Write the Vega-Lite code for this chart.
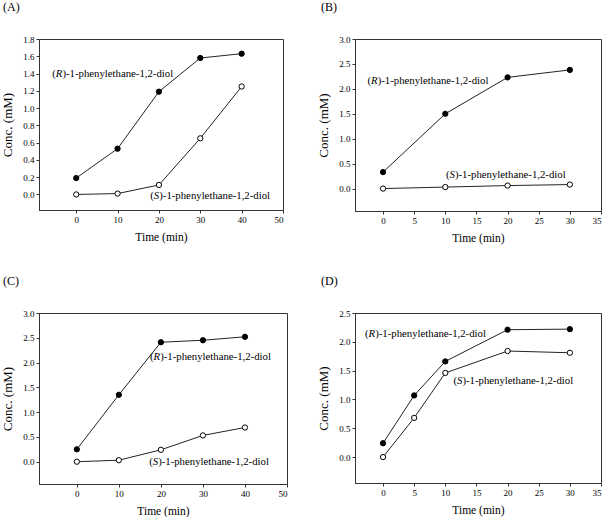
{
  "$schema": "https://vega.github.io/schema/vega-lite/v6.json",
  "background": "white",
  "padding": {"left": 1, "top": 0, "right": 0, "bottom": 0},
  "columns": 2,
  "spacing": {"column": 29, "row": 30},
  "config": {
    "view": {"stroke": "#333", "strokeWidth": 1},
    "font": "Liberation Serif",
    "axis": {
      "grid": false, "labelFont": "Liberation Serif", "labelFontSize": 9, "labelColor": "#000",
      "titleFont": "Liberation Serif", "titleFontSize": 11.5, "titleFontWeight": 400, "titleColor": "#000",
      "tickSize": 3, "tickColor": "#333", "domainColor": "#333", "labelPadding": 2
    },
    "axisX": {"titlePadding": 7, "titleFontWeight": 400},
    "axisY": {"titlePadding": 8, "titleFontSize": 13, "titleFontWeight": 400},
    "title": {"font": "Liberation Serif", "fontSize": 12, "fontWeight": 400, "anchor": "start", "frame": "group", "color": "#000"},
    "text": {"font": "Liberation Serif", "fontSize": 10.75, "baseline": "middle", "align": "left", "color": "#000"},
    "line": {"color": "#222", "strokeWidth": 1},
    "point": {"size": 28, "stroke": "#000", "strokeWidth": 1, "opacity": 1}
  },
  "concat": [
    {
      "title": {"text": "(A)", "dx": -36, "offset": 21},
      "width": 244, "height": 171,
      "data": {"values": [
        {"t": 0, "c": 0.19, "s": "R"}, {"t": 10, "c": 0.53, "s": "R"}, {"t": 20, "c": 1.19, "s": "R"}, {"t": 30, "c": 1.58, "s": "R"}, {"t": 40, "c": 1.63, "s": "R"},
        {"t": 0, "c": 0.0, "s": "S"}, {"t": 10, "c": 0.01, "s": "S"}, {"t": 20, "c": 0.11, "s": "S"}, {"t": 30, "c": 0.65, "s": "S"}, {"t": 40, "c": 1.25, "s": "S"}
      ]},
      "encoding": {
        "x": {"field": "t", "type": "quantitative", "title": "Time (min)", "scale": {"domain": [-9, 50], "nice": false, "zero": false}, "axis": {"values": [0, 10, 20, 30, 40, 50], "titleFontWeight": 400}},
        "y": {"field": "c", "type": "quantitative", "title": "Conc. (mM)", "scale": {"domain": [-0.18, 1.8], "nice": false, "zero": false}, "axis": {"values": [0, 0.2, 0.4, 0.6, 0.8, 1.0, 1.2, 1.4, 1.6, 1.8], "format": ".1f", "titleFontWeight": 400}}
      },
      "layer": [
        {"mark": "line", "encoding": {"detail": {"field": "s"}}},
        {"mark": {"type": "point", "filled": false}, "encoding": {"fill": {"field": "s", "type": "nominal", "scale": {"domain": ["R", "S"], "range": ["#000", "#fff"]}, "legend": null}}},
        {"data": {"values": [{"t": -5.8, "c": 1.39, "p": "(", "l": "R", "r": ")-1-phenylethane-1,2-diol"}]}, "layer": [
          {"mark": {"type": "text"}, "encoding": {"text": {"field": "p"}}},
          {"mark": {"type": "text", "dx": 3.6, "fontStyle": "italic"}, "encoding": {"text": {"field": "l"}}},
          {"mark": {"type": "text", "dx": 10.2}, "encoding": {"text": {"field": "r"}}}
        ]},
        {"data": {"values": [{"t": 17.9, "c": -0.02, "p": "(", "l": "S", "r": ")-1-phenylethane-1,2-diol"}]}, "layer": [
          {"mark": {"type": "text"}, "encoding": {"text": {"field": "p"}}},
          {"mark": {"type": "text", "dx": 3.6, "fontStyle": "italic"}, "encoding": {"text": {"field": "l"}}},
          {"mark": {"type": "text", "dx": 9.0}, "encoding": {"text": {"field": "r"}}}
        ]}
      ]
    },
    {
      "title": {"text": "(B)", "dx": -34, "offset": 21},
      "width": 246, "height": 172,
      "data": {"values": [
        {"t": 0, "c": 0.33, "s": "R"}, {"t": 10, "c": 1.5, "s": "R"}, {"t": 20, "c": 2.23, "s": "R"}, {"t": 30, "c": 2.38, "s": "R"},
        {"t": 0, "c": 0.0, "s": "S"}, {"t": 10, "c": 0.03, "s": "S"}, {"t": 20, "c": 0.06, "s": "S"}, {"t": 30, "c": 0.08, "s": "S"}
      ]},
      "encoding": {
        "x": {"field": "t", "type": "quantitative", "title": "Time (min)", "scale": {"domain": [-4.5, 35], "nice": false, "zero": false}, "axis": {"values": [0, 5, 10, 15, 20, 25, 30, 35], "titleFontWeight": 400}},
        "y": {"field": "c", "type": "quantitative", "title": "Conc. (mM)", "scale": {"domain": [-0.45, 3.0], "nice": false, "zero": false}, "axis": {"values": [0, 0.5, 1.0, 1.5, 2.0, 2.5, 3.0], "format": ".1f", "titleFontWeight": 400}}
      },
      "layer": [
        {"mark": "line", "encoding": {"detail": {"field": "s"}}},
        {"mark": {"type": "point", "filled": false}, "encoding": {"fill": {"field": "s", "type": "nominal", "scale": {"domain": ["R", "S"], "range": ["#000", "#fff"]}, "legend": null}}},
        {"data": {"values": [{"t": -2.5, "c": 2.16, "p": "(", "l": "R", "r": ")-1-phenylethane-1,2-diol"}]}, "layer": [
          {"mark": {"type": "text"}, "encoding": {"text": {"field": "p"}}},
          {"mark": {"type": "text", "dx": 3.6, "fontStyle": "italic"}, "encoding": {"text": {"field": "l"}}},
          {"mark": {"type": "text", "dx": 10.2}, "encoding": {"text": {"field": "r"}}}
        ]},
        {"data": {"values": [{"t": 10.1, "c": 0.28, "p": "(", "l": "S", "r": ")-1-phenylethane-1,2-diol"}]}, "layer": [
          {"mark": {"type": "text"}, "encoding": {"text": {"field": "p"}}},
          {"mark": {"type": "text", "dx": 3.6, "fontStyle": "italic"}, "encoding": {"text": {"field": "l"}}},
          {"mark": {"type": "text", "dx": 9.0}, "encoding": {"text": {"field": "r"}}}
        ]}
      ]
    },
    {
      "title": {"text": "(C)", "dx": -36, "offset": 21},
      "width": 248, "height": 171,
      "data": {"values": [
        {"t": 0, "c": 0.25, "s": "R"}, {"t": 10, "c": 1.35, "s": "R"}, {"t": 20, "c": 2.41, "s": "R"}, {"t": 30, "c": 2.45, "s": "R"}, {"t": 40, "c": 2.52, "s": "R"},
        {"t": 0, "c": 0.0, "s": "S"}, {"t": 10, "c": 0.03, "s": "S"}, {"t": 20, "c": 0.24, "s": "S"}, {"t": 30, "c": 0.53, "s": "S"}, {"t": 40, "c": 0.69, "s": "S"}
      ]},
      "encoding": {
        "x": {"field": "t", "type": "quantitative", "title": "Time (min)", "scale": {"domain": [-9, 50], "nice": false, "zero": false}, "axis": {"values": [0, 10, 20, 30, 40, 50], "titleFontWeight": 400}},
        "y": {"field": "c", "type": "quantitative", "title": "Conc. (mM)", "scale": {"domain": [-0.45, 3.0], "nice": false, "zero": false}, "axis": {"values": [0, 0.5, 1.0, 1.5, 2.0, 2.5, 3.0], "format": ".1f", "titleFontWeight": 400}}
      },
      "layer": [
        {"mark": "line", "encoding": {"detail": {"field": "s"}}},
        {"mark": {"type": "point", "filled": false}, "encoding": {"fill": {"field": "s", "type": "nominal", "scale": {"domain": ["R", "S"], "range": ["#000", "#fff"]}, "legend": null}}},
        {"data": {"values": [{"t": 17.4, "c": 2.11, "p": "(", "l": "R", "r": ")-1-phenylethane-1,2-diol"}]}, "layer": [
          {"mark": {"type": "text"}, "encoding": {"text": {"field": "p"}}},
          {"mark": {"type": "text", "dx": 3.6, "fontStyle": "italic"}, "encoding": {"text": {"field": "l"}}},
          {"mark": {"type": "text", "dx": 10.2}, "encoding": {"text": {"field": "r"}}}
        ]},
        {"data": {"values": [{"t": 17.2, "c": -0.01, "p": "(", "l": "S", "r": ")-1-phenylethane-1,2-diol"}]}, "layer": [
          {"mark": {"type": "text"}, "encoding": {"text": {"field": "p"}}},
          {"mark": {"type": "text", "dx": 3.6, "fontStyle": "italic"}, "encoding": {"text": {"field": "l"}}},
          {"mark": {"type": "text", "dx": 9.0}, "encoding": {"text": {"field": "r"}}}
        ]}
      ]
    },
    {
      "title": {"text": "(D)", "dx": -34, "offset": 21},
      "width": 246, "height": 170,
      "data": {"values": [
        {"t": 0, "c": 0.24, "s": "R"}, {"t": 5, "c": 1.07, "s": "R"}, {"t": 10, "c": 1.66, "s": "R"}, {"t": 20, "c": 2.21, "s": "R"}, {"t": 30, "c": 2.22, "s": "R"},
        {"t": 0, "c": 0.0, "s": "S"}, {"t": 5, "c": 0.68, "s": "S"}, {"t": 10, "c": 1.46, "s": "S"}, {"t": 20, "c": 1.84, "s": "S"}, {"t": 30, "c": 1.81, "s": "S"}
      ]},
      "encoding": {
        "x": {"field": "t", "type": "quantitative", "title": "Time (min)", "scale": {"domain": [-4.5, 35], "nice": false, "zero": false}, "axis": {"values": [0, 5, 10, 15, 20, 25, 30, 35], "titleFontWeight": 400}},
        "y": {"field": "c", "type": "quantitative", "title": "Conc. (mM)", "scale": {"domain": [-0.45, 2.5], "nice": false, "zero": false}, "axis": {"values": [0, 0.5, 1.0, 1.5, 2.0, 2.5], "format": ".1f", "titleFontWeight": 400}}
      },
      "layer": [
        {"mark": "line", "encoding": {"detail": {"field": "s"}}},
        {"mark": {"type": "point", "filled": false}, "encoding": {"fill": {"field": "s", "type": "nominal", "scale": {"domain": ["R", "S"], "range": ["#000", "#fff"]}, "legend": null}}},
        {"data": {"values": [{"t": -2.9, "c": 2.14, "p": "(", "l": "R", "r": ")-1-phenylethane-1,2-diol"}]}, "layer": [
          {"mark": {"type": "text"}, "encoding": {"text": {"field": "p"}}},
          {"mark": {"type": "text", "dx": 3.6, "fontStyle": "italic"}, "encoding": {"text": {"field": "l"}}},
          {"mark": {"type": "text", "dx": 10.2}, "encoding": {"text": {"field": "r"}}}
        ]},
        {"data": {"values": [{"t": 11.3, "c": 1.32, "p": "(", "l": "S", "r": ")-1-phenylethane-1,2-diol"}]}, "layer": [
          {"mark": {"type": "text"}, "encoding": {"text": {"field": "p"}}},
          {"mark": {"type": "text", "dx": 3.6, "fontStyle": "italic"}, "encoding": {"text": {"field": "l"}}},
          {"mark": {"type": "text", "dx": 9.0}, "encoding": {"text": {"field": "r"}}}
        ]}
      ]
    }
  ]
}
